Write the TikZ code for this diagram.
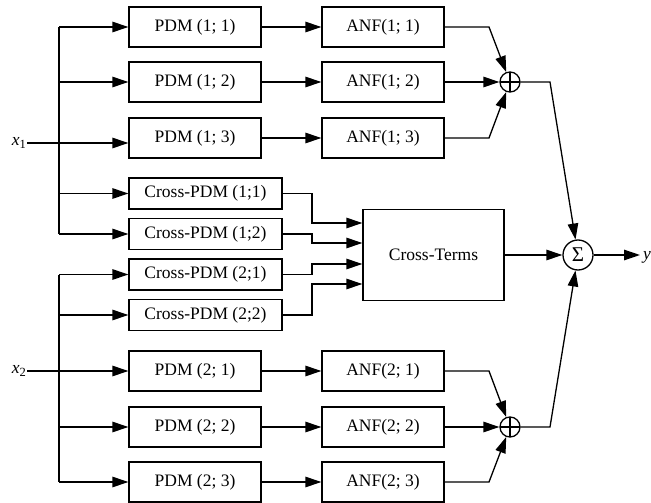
\documentclass[tikz,border=0pt]{standalone}
\usepackage{fontspec}
\setmainfont{Liberation Serif}
\usetikzlibrary{arrows.meta}
\begin{document}
\begin{tikzpicture}[x=1pt,y=-1pt,
  every node/.style={font=\fontsize{17.5}{20}\selectfont},
  ln/.style={line width=1.3pt},
  conn/.style={line width=1.3pt, -{Triangle[length=16pt,width=10.5pt]}},
  blk/.style={draw, line width=1.3pt, inner sep=0pt},
  pdmbox/.style={blk, minimum width=132pt, minimum height=40pt},
  anfbox/.style={blk, minimum width=122pt, minimum height=40pt},
  cpdmbox/.style={blk, minimum width=153pt, minimum height=31pt},
  ctbox/.style={blk, minimum width=141pt, minimum height=91pt},
  sumc/.style={circle, draw, line width=1.3pt, minimum size=20pt, inner sep=0pt,
    path picture={\draw[line width=1.3pt] (path picture bounding box.north) -- (path picture bounding box.south)
      (path picture bounding box.west) -- (path picture bounding box.east);}},
  sigc/.style={circle, draw, line width=1.3pt, minimum size=30pt, inner sep=0pt, font=\fontsize{21}{24}\selectfont}]
\useasboundingbox (0,0) rectangle (651,503);

% PDM blocks
\node[pdmbox] (p11) at (195,27) {PDM (1; 1)};
\node[pdmbox] (p12) at (195,82) {PDM (1; 2)};
\node[pdmbox] (p13) at (195,138) {PDM (1; 3)};
\node[pdmbox] (p21) at (195,371) {PDM (2; 1)};
\node[pdmbox] (p22) at (195,427) {PDM (2; 2)};
\node[pdmbox] (p23) at (195,482) {PDM (2; 3)};
% ANF blocks
\node[anfbox] (a11) at (383,27) {ANF(1; 1)};
\node[anfbox] (a12) at (383,82) {ANF(1; 2)};
\node[anfbox] (a13) at (383,138) {ANF(1; 3)};
\node[anfbox] (a21) at (383,371) {ANF(2; 1)};
\node[anfbox] (a22) at (383,427) {ANF(2; 2)};
\node[anfbox] (a23) at (383,482) {ANF(2; 3)};
% Cross-PDM blocks
\node[cpdmbox] (c11) at (205.5,193.5) {Cross-PDM (1;1)};
\node[cpdmbox] (c12) at (205.5,234) {Cross-PDM (1;2)};
\node[cpdmbox] (c21) at (205.5,274.5) {Cross-PDM (2;1)};
\node[cpdmbox] (c22) at (205.5,315) {Cross-PDM (2;2)};
% Cross-Terms
\node[ctbox] (ct) at (433.5,255) {Cross-Terms};
% Summation nodes
\node[sumc] (s1) at (510,82) {};
\node[sumc] (s2) at (510,427) {};
\node[sigc] (sg) at (578,255) {Σ};
% inputs / output labels
\node[anchor=east, inner sep=1pt] (x1) at (27,143) {\textit{x}\raisebox{-0.3ex}{\fontsize{12.5}{14}\selectfont 1}};
\node[anchor=east, inner sep=1pt] (x2) at (27,371) {\textit{x}\raisebox{-0.3ex}{\fontsize{12.5}{14}\selectfont 2}};
\node[anchor=west, inner sep=1pt] (yout) at (642,257) {\textit{y}};

% helper coordinates
\coordinate (b1) at (59,143);
\coordinate (b2) at (59,371);
\coordinate (k11) at (312,223);
\coordinate (k12) at (312,243);
\coordinate (k21) at (312,264);
\coordinate (k22) at (312,284);
\coordinate (e11) at (489,27);
\coordinate (e13) at (489,138);
\coordinate (e21) at (489,371);
\coordinate (e23) at (489,482);
\coordinate (d1) at (550,82);
\coordinate (d2) at (550,427);
\coordinate (yend) at (640,255);

% x1 bus
\draw[conn] (x1.east |- b1) -- (p13.west |- b1);
\draw[ln] (p11.west -| b1) -- (c12.west -| b1);
\draw[conn] (p11.west -| b1) -- (p11.west);
\draw[conn] (p12.west -| b1) -- (p12.west);
\draw[conn] (c11.west -| b1) -- (c11.west);
\draw[conn] (c12.west -| b1) -- (c12.west);
% x2 bus
\draw[conn] (x2.east |- b2) -- (p21.west);
\draw[ln] (c21.west -| b2) -- (p23.west -| b2);
\draw[conn] (c21.west -| b2) -- (c21.west);
\draw[conn] (c22.west -| b2) -- (c22.west);
\draw[conn] (p22.west -| b2) -- (p22.west);
\draw[conn] (p23.west -| b2) -- (p23.west);

% PDM -> ANF
\draw[conn] (p11) -- (a11);
\draw[conn] (p12) -- (a12);
\draw[conn] (p13) -- (a13);
\draw[conn] (p21) -- (a21);
\draw[conn] (p22) -- (a22);
\draw[conn] (p23) -- (a23);

% Cross-PDM -> Cross-Terms
\draw[conn] (c11.east) -| (k11) -- (k11 -| ct.west);
\draw[conn] (c12.east) -| (k12) -- (k12 -| ct.west);
\draw[conn] (c21.east) -| (k21) -- (k21 -| ct.west);
\draw[conn] (c22.east) -| (k22) -- (k22 -| ct.west);

% ANF -> sums
\draw[conn] (a11.east) -- (e11) -- (s1);
\draw[conn] (a12.east) -- (s1.west);
\draw[conn] (a13.east) -- (e13) -- (s1);
\draw[conn] (a21.east) -- (e21) -- (s2);
\draw[conn] (a22.east) -- (s2.west);
\draw[conn] (a23.east) -- (e23) -- (s2);

% sums -> Sigma
\draw[conn] (s1.east) -- (d1) -- (sg);
\draw[conn] (s2.east) -- (d2) -- (sg);
\draw[conn] (ct.east) -- (sg.west);
\draw[conn] (sg.east) -- (yend);
\end{tikzpicture}
\end{document}
